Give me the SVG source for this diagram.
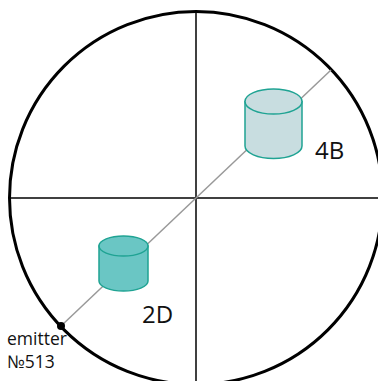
<svg xmlns="http://www.w3.org/2000/svg" width="378" height="381" viewBox="0 0 378 381">
<style>
.lbl{font-family:"Open Sans","Noto Sans",sans-serif;fill:#111}
.big{font-size:24px}
.small{font-size:17.5px}
.cyl{stroke:#1fa393;stroke-width:1.5}
</style>
<rect width="378" height="381" fill="#fff"/>
<g id="frame">
<circle cx="196" cy="198" r="186.5" fill="none" stroke="#000" stroke-width="3"/>
<line x1="196" y1="11" x2="196" y2="381" stroke="#000" stroke-width="1.5"/>
<line x1="9" y1="198" x2="378" y2="198" stroke="#000" stroke-width="1.5"/>
</g>
<g id="connectors">
<line x1="61" y1="326" x2="331" y2="70" stroke="#999" stroke-width="1.5"/>
</g>
<g id="cyl4B">
<path class="cyl" fill="#c8dde0" d="M245,101.5 V146 A28.5,12.5 0 0 0 302,146 V101.5 Z"/>
<ellipse class="cyl" fill="#c8dde0" cx="273.5" cy="101.5" rx="28.5" ry="12.5"/>
<text class="lbl big" x="315" y="159">4B</text>
</g>
<g id="cyl2D">
<path class="cyl" fill="#6ac6c4" d="M99,246 V281 A24.5,10 0 0 0 148,281 V246 Z"/>
<ellipse class="cyl" fill="#6ac6c4" cx="123.5" cy="246" rx="24.5" ry="10"/>
<text class="lbl big" x="142" y="323">2D</text>
</g>
<g id="emitter">
<circle cx="61" cy="326" r="4" fill="#000"/>
<text class="lbl small" x="7" y="345">emitter</text>
<text class="lbl small" x="7" y="368">№513</text>
</g>
</svg>
